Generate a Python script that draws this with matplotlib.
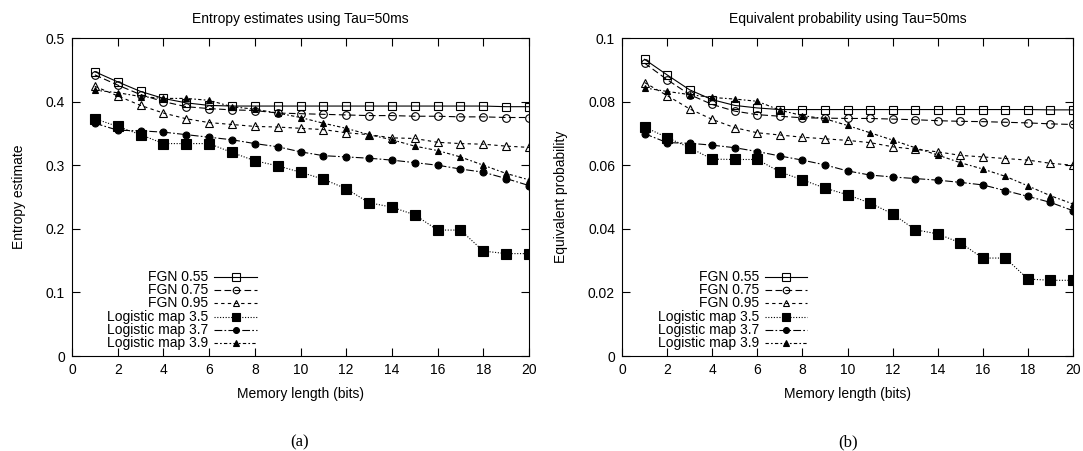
import numpy as np
import matplotlib
matplotlib.use('Agg')
import matplotlib.pyplot as plt
from matplotlib.lines import Line2D

plt.rcParams['font.family'] = ['Liberation Sans Narrow', 'Liberation Sans', 'DejaVu Sans']

memory = np.arange(1, 21)

# (a) entropy estimates
ent_fgn055 = [0.447, 0.431, 0.416, 0.405, 0.398, 0.394, 0.393, 0.393, 0.393, 0.393,
              0.393, 0.393, 0.393, 0.393, 0.393, 0.393, 0.393, 0.393, 0.392, 0.392]
ent_fgn075 = [0.442, 0.426, 0.411, 0.400, 0.392, 0.389, 0.387, 0.386, 0.382, 0.381,
              0.380, 0.379, 0.378, 0.378, 0.377, 0.377, 0.376, 0.376, 0.375, 0.375]
ent_fgn095 = [0.424, 0.409, 0.394, 0.382, 0.373, 0.367, 0.364, 0.361, 0.360, 0.358,
              0.356, 0.351, 0.348, 0.343, 0.342, 0.336, 0.334, 0.333, 0.330, 0.328]
ent_log35 = [0.373, 0.361, 0.348, 0.334, 0.334, 0.334, 0.320, 0.307, 0.299, 0.289,
             0.278, 0.263, 0.241, 0.234, 0.222, 0.198, 0.198, 0.165, 0.161, 0.161]
ent_log37 = [0.366, 0.355, 0.354, 0.352, 0.348, 0.344, 0.340, 0.334, 0.329, 0.321,
             0.315, 0.313, 0.311, 0.308, 0.304, 0.300, 0.294, 0.289, 0.279, 0.268]
ent_log39 = [0.418, 0.414, 0.408, 0.405, 0.405, 0.402, 0.392, 0.388, 0.382, 0.375,
             0.366, 0.358, 0.348, 0.340, 0.330, 0.323, 0.313, 0.300, 0.287, 0.277]

# (b) equivalent probability
prob_fgn055 = [0.0933, 0.0884, 0.0837, 0.0806, 0.0788, 0.0780, 0.0775, 0.0775, 0.0775, 0.0775,
               0.0775, 0.0775, 0.0775, 0.0775, 0.0775, 0.0775, 0.0775, 0.0775, 0.0774, 0.0774]
prob_fgn075 = [0.0921, 0.0869, 0.0822, 0.0791, 0.0770, 0.0759, 0.0754, 0.0749, 0.0748, 0.0747,
               0.0747, 0.0745, 0.0743, 0.0740, 0.0738, 0.0737, 0.0735, 0.0733, 0.0730, 0.0728]
prob_fgn095 = [0.0860, 0.0819, 0.0777, 0.0744, 0.0718, 0.0702, 0.0695, 0.0688, 0.0683, 0.0678,
               0.0671, 0.0658, 0.0650, 0.0642, 0.0631, 0.0626, 0.0621, 0.0616, 0.0606, 0.0600]
prob_log35 = [0.0720, 0.0687, 0.0655, 0.0619, 0.0618, 0.0618, 0.0579, 0.0554, 0.0528, 0.0507,
              0.0481, 0.0447, 0.0397, 0.0384, 0.0356, 0.0308, 0.0308, 0.0242, 0.0238, 0.0238]
prob_log37 = [0.0699, 0.0671, 0.0669, 0.0663, 0.0655, 0.0643, 0.0629, 0.0616, 0.0601, 0.0582,
              0.0569, 0.0563, 0.0558, 0.0553, 0.0546, 0.0538, 0.0520, 0.0502, 0.0483, 0.0457]
prob_log39 = [0.0843, 0.0832, 0.0822, 0.0813, 0.0808, 0.0801, 0.0773, 0.0756, 0.0746, 0.0725,
              0.0702, 0.0679, 0.0655, 0.0632, 0.0608, 0.0588, 0.0565, 0.0535, 0.0504, 0.0478]

labels = ['FGN 0.55', 'FGN 0.75', 'FGN 0.95',
          'Logistic map 3.5', 'Logistic map 3.7', 'Logistic map 3.9']

# gnuplot-like styles: (dashes, marker, size, filled)
styles = [
    ((None, None), 's', 6.0, False),
    ((6, 3), 'o', 5.5, False),
    ((3, 3), '^', 5.5, False),
    ((1, 1.5), 's', 7.0, True),
    ((7, 2, 1.5, 2), 'o', 5.0, True),
    ((3, 2, 1.5, 2), '^', 5.0, True),
]


def draw_panel(ax, series, title, ylabel, ymax, yticks, yticklabels, leg_x):
    for y, (dash, mk, ms, filled) in zip(series, styles):
        line, = ax.plot(memory, y, color='black', linewidth=0.8, marker=mk, markersize=ms,
                        markerfacecolor='black' if filled else 'none',
                        markeredgecolor='black', markeredgewidth=0.8)
        if dash[0] is not None:
            line.set_dashes(dash)
    ax.set_xlim(0, 20)
    ax.set_ylim(0, ymax)
    ax.set_xticks(np.arange(0, 21, 2))
    ax.set_yticks(yticks)
    ax.set_yticklabels(yticklabels)
    ax.tick_params(direction='in', top=True, right=True, length=6, width=0.8,
                   labelsize=10, pad=5)
    for s in ax.spines.values():
        s.set_linewidth(0.8)
    ax.set_title(title, fontsize=10, pad=11)
    ax.set_xlabel('Memory length (bits)', fontsize=10, labelpad=7)
    ax.set_ylabel(ylabel, fontsize=10, labelpad=14)

    # gnuplot style key: text right-aligned, sample to the right
    row0, step = 0.249, 0.0419
    for i, (lab, (dash, mk, ms, filled)) in enumerate(zip(labels, styles)):
        yy = row0 - i * step
        ax.text(leg_x, yy, lab, transform=ax.transAxes, ha='right', va='center', fontsize=10)
        ln = Line2D([leg_x + 0.013, leg_x + 0.107], [yy, yy], transform=ax.transAxes,
                    color='black', linewidth=0.8)
        if dash[0] is not None:
            ln.set_dashes(dash)
        ax.add_line(ln)
        ax.plot([leg_x + 0.06], [yy], transform=ax.transAxes, marker=mk, markersize=ms * 0.85,
                markerfacecolor='black' if filled else 'none', markeredgecolor='black',
                markeredgewidth=0.8, linestyle='none')


fig = plt.figure(figsize=(10.83, 4.51), dpi=100)
ax1 = fig.add_axes([72 / 1083, 95 / 451, 457 / 1083, 318 / 451])
ax2 = fig.add_axes([622 / 1083, 95 / 451, 451 / 1083, 318 / 451])

draw_panel(ax1, [ent_fgn055, ent_fgn075, ent_fgn095, ent_log35, ent_log37, ent_log39],
           'Entropy estimates using Tau=50ms', 'Entropy estimate', 0.5,
           [0, 0.1, 0.2, 0.3, 0.4, 0.5], ['0', '0.1', '0.2', '0.3', '0.4', '0.5'], 0.298)
draw_panel(ax2, [prob_fgn055, prob_fgn075, prob_fgn095, prob_log35, prob_log37, prob_log39],
           'Equivalent probability using Tau=50ms', 'Equivalent probability', 0.1,
           [0, 0.02, 0.04, 0.06, 0.08, 0.1], ['0', '0.02', '0.04', '0.06', '0.08', '0.1'], 0.304)

fig.text(300 / 1083, 1 - 442 / 451, '(a)', ha='center', va='center', fontsize=12,
         family=['Liberation Serif', 'DejaVu Serif'])
fig.text(848 / 1083, 1 - 442 / 451, '(b)', ha='center', va='center', fontsize=12,
         family=['Liberation Serif', 'DejaVu Serif'])

fig.savefig('out.png', dpi=100)
